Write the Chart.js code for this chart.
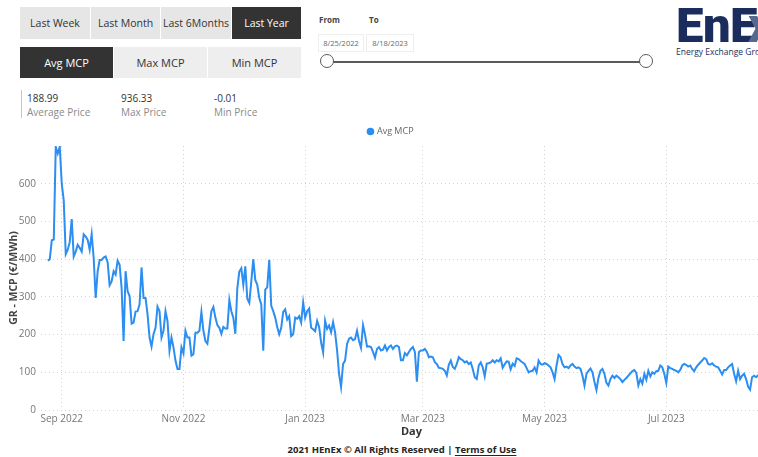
<!DOCTYPE html>
<html>
<head>
<meta charset="utf-8">
<script src="https://cdn.jsdelivr.net/npm/chart.js@4.4.0/dist/chart.umd.min.js"></script>
<style>
  html, body { margin:0; padding:0; background:#fff; width:758px; height:457px; overflow:hidden; font-family:"Open Sans","Noto Sans",sans-serif; }
  .btn { position:absolute; display:flex; align-items:center; justify-content:center; font-size:10.5px; color:#333; background:#e6e6e6; }
  .btn.row2 { background:#eeeeee; font-size:11px; }
  .btn.on { background:#333; color:#fff; }
  .stat-bar { position:absolute; left:21px; top:90px; width:1px; height:28px; background:#c8c8c8; }
  .stat { position:absolute; font-size:10px; line-height:13px; color:#333; }
  .stat span { display:block; color:#8a8a8a; margin-top:1px; }
  .lbl { position:absolute; font-size:8px; font-weight:700; color:#444; }
  .datebox { position:absolute; top:34px; height:16px; border:1px solid #eee; font-size:7.5px; color:#666; display:flex; align-items:center; justify-content:center; }
  .track { position:absolute; left:328px; top:61px; width:319px; height:2px; background:#5a5a5a; }
  .knob { position:absolute; top:54px; width:12px; height:12px; border:1.5px solid #5a5a5a; border-radius:50%; background:#fff; }
  .logo { position:absolute; top:-3px; font-family:Roboto,"Noto Sans",sans-serif; font-weight:900; font-size:49px; letter-spacing:-0.5px; color:#1b2d5c; white-space:nowrap; line-height:1.2; }
  .logo.x { color:#56698f; }
  .logo-sub { position:absolute; left:676px; top:46px; font-size:8.5px; color:#1b2d5c; white-space:nowrap; }
  #wrap { position:absolute; left:0; top:120px; width:782px; height:322px; }
  .footer { position:absolute; left:0; top:443px; width:804px; text-align:center; font-size:9.5px; font-weight:700; color:#252423; }
  .footer u { text-underline-offset:2px; }
</style>
</head>
<body>
  <div class="btn" style="left:20px;top:7px;width:70px;height:32px;">Last Week</div>
  <div class="btn" style="left:91px;top:7px;width:69px;height:32px;">Last Month</div>
  <div class="btn" style="left:161px;top:7px;width:70px;height:32px;">Last 6Months</div>
  <div class="btn on" style="left:232px;top:7px;width:69px;height:32px;">Last Year</div>

  <div class="btn row2 on" style="left:20px;top:47px;width:93px;height:31px;">Avg MCP</div>
  <div class="btn row2" style="left:114px;top:47px;width:93px;height:31px;">Max MCP</div>
  <div class="btn row2" style="left:208px;top:47px;width:93px;height:31px;">Min MCP</div>

  <div class="stat-bar"></div>
  <div class="stat" style="left:27px;top:92px;">188.99<span>Average Price</span></div>
  <div class="stat" style="left:121px;top:92px;">936.33<span>Max Price</span></div>
  <div class="stat" style="left:214px;top:92px;">-0.01<span>Min Price</span></div>

  <div class="lbl" style="left:319px;top:14px;">From</div>
  <div class="lbl" style="left:369px;top:14px;">To</div>
  <div class="datebox" style="left:318px;width:44px;">8/25/2022</div>
  <div class="datebox" style="left:366px;width:46px;">8/18/2023</div>
  <div class="track"></div>
  <div class="knob" style="left:320px;"></div>
  <div class="knob" style="left:639px;"></div>

  <div class="logo" style="left:676px;">EnE</div>
  <div class="logo x" style="left:748px;">x</div>
  <div class="logo-sub">Energy Exchange Group</div>

  <div id="wrap"><canvas id="mcpChart"></canvas></div>

  <div class="footer">2021 HEnEx © All Rights Reserved | <u>Terms of Use</u></div>

<script>
  // ── DATA ──
  const START_DATE = '2022-08-25';
  const END_DATE = '2023-08-18';

  // daily average MCP (€/MWh), one value per day from START_DATE to END_DATE
  const avgMcp = [
    396, 400, 450, 452, 698, 680, 698, 600, 555, 413,
    425, 445, 506, 407, 420, 438, 430, 420, 466, 460,
    451, 425, 466, 403, 297, 368, 398, 398, 404, 407,
    392, 331, 341, 368, 359, 396, 385, 324, 183, 368,
    315, 302, 229, 232, 261, 262, 280, 378, 297, 297,
    254, 192, 168, 201, 218, 274, 262, 192, 210, 262,
    236, 157, 192, 166, 131, 109, 109, 166, 150, 210,
    192, 192, 144, 148, 205, 205, 210, 260, 210, 183,
    176, 218, 262, 273, 245, 225, 218, 202, 220, 216,
    216, 292, 262, 245, 202, 323, 367, 376, 332, 381,
    295, 284, 341, 400, 345, 332, 297, 280, 157, 319,
    325, 398, 276, 262, 245, 220, 201, 218, 260, 267,
    240, 249, 196, 201, 245, 242, 249, 232, 285, 245,
    262, 269, 218, 214, 209, 236, 220, 179, 153, 237,
    215, 224, 206, 233, 206, 158, 96, 61, 122, 131,
    175, 189, 192, 185, 188, 210, 183, 165, 225, 200,
    168, 169, 167, 154, 139, 162, 167, 158, 160, 171,
    158, 167, 171, 162, 169, 171, 167, 132, 132, 151,
    145, 154, 162, 167, 154, 75, 154, 158, 158, 162,
    154, 140, 142, 140, 127, 122, 112, 111, 109, 104,
    92, 120, 131, 114, 109, 122, 140, 135, 132, 126,
    129, 122, 126, 109, 87, 82, 118, 126, 113, 89,
    123, 124, 126, 132, 126, 132, 129, 137, 112, 121,
    129, 128, 108, 123, 117, 137, 135, 130, 126, 122,
    111, 100, 103, 104, 113, 100, 131, 122, 120, 124,
    122, 118, 113, 100, 82, 118, 146, 140, 122, 113,
    115, 111, 118, 122, 115, 111, 113, 109, 91, 65,
    96, 104, 110, 100, 75, 53, 85, 104, 109, 96,
    72, 65, 82, 91, 85, 91, 87, 82, 74, 80,
    85, 91, 97, 103, 106, 98, 65, 82, 70, 96,
    80, 104, 89, 100, 96, 103, 104, 118, 113, 96,
    72, 115, 111, 109, 106, 104, 100, 106, 118, 122,
    120, 115, 118, 109, 103, 113, 120, 126, 131, 138,
    135, 122, 120, 124, 118, 115, 113, 104, 94, 106,
    106, 113, 118, 122, 96, 76, 104, 82, 91, 96,
    82, 62, 54, 87, 91, 87, 92, 95, 90
  ];

  const tickDates = ['2022-09-01', '2022-11-01', '2023-01-01', '2023-03-01', '2023-05-01', '2023-07-01'];
  const tickLabels = ['Sep 2022', 'Nov 2022', 'Jan 2023', 'Mar 2023', 'May 2023', 'Jul 2023'];
  const yTicks = [0, 100, 200, 300, 400, 500, 600];

  // day index helpers
  const DAY_MS = 86400000;
  const dayIndex = d => Math.round((Date.parse(d) - Date.parse(START_DATE)) / DAY_MS);
  const tickDays = tickDates.map(dayIndex);

  Chart.defaults.font.family = '"Open Sans", "Noto Sans", sans-serif';

  const gridColor = '#d4d4d4';

  new Chart(document.getElementById('mcpChart').getContext('2d'), {
    type: 'line',
    data: {
      datasets: [{
        label: 'Avg MCP',
        data: avgMcp.map((v, i) => ({ x: i, y: v })),
        borderColor: '#2b8ef0',
        backgroundColor: '#2b8ef0',
        borderWidth: 2,
        pointRadius: 0,
        tension: 0
      }]
    },
    options: {
      responsive: true,
      maintainAspectRatio: false,
      animation: false,
      layout: { padding: 0 },
      plugins: {
        legend: {
          position: 'top',
          labels: { usePointStyle: true, pointStyle: 'circle', boxWidth: 4, boxHeight: 4, color: '#666', font: { size: 9 }, padding: 7 }
        },
        tooltip: { enabled: false }
      },
      scales: {
        x: {
          type: 'linear',
          min: -3.4,
          max: 368,
          afterBuildTicks: axis => { axis.ticks = tickDays.map(v => ({ value: v })); },
          afterFit: axis => { axis.height = 32; },
          ticks: {
            autoSkip: false, maxRotation: 0, padding: 3, color: '#777', font: { size: 10 },
            callback: v => tickLabels[tickDays.indexOf(v)]
          },
          grid: { color: gridColor, drawTicks: false },
          border: { display: false, dash: [1, 3] },
          title: { display: true, text: 'Day', color: '#333', font: { size: 11, weight: 'bold' }, padding: { top: 2, bottom: 4 } }
        },
        y: {
          min: 0,
          max: 700,
          afterBuildTicks: axis => { axis.ticks = yTicks.map(v => ({ value: v })); },
          afterFit: axis => { axis.width = 41; },
          ticks: { padding: 5, color: '#777', font: { size: 10 } },
          grid: { color: gridColor, drawTicks: false },
          border: { display: false, dash: [1, 3] },
          title: { display: true, text: 'GR - MCP (€/MWh)', color: '#444', font: { size: 10.5, weight: 'bold' }, padding: { top: 8, bottom: 0 } }
        }
      }
    }
  });
</script>
</body>
</html>
